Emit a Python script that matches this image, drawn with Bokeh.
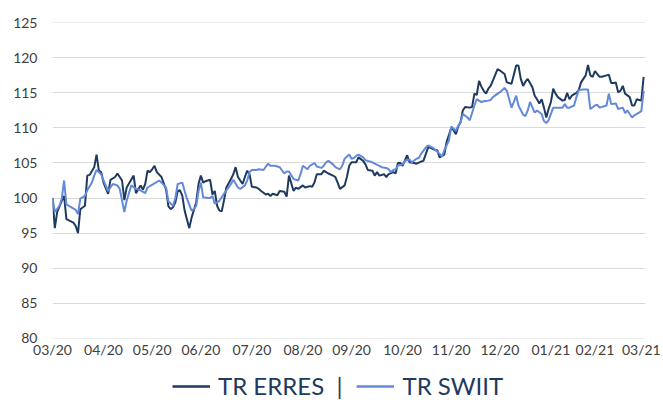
from bokeh.plotting import figure
from bokeh.models import Range1d, Legend, LegendItem, FixedTicker
from bokeh.layouts import column
from bokeh.embed import file_html
from bokeh.resources import INLINE

# ---- data (x = trading session index, y = index level) ----
erres_x = [0, 1, 2, 4, 5, 6, 9, 10, 11, 12, 14, 15, 16, 18, 19, 20, 21, 22, 24, 25, 27, 28, 30, 31, 32,
           35, 36, 38, 39, 40, 41, 42, 43, 44, 45, 47, 49, 50, 51, 52, 53, 54, 55, 56, 57, 59, 60, 62, 63,
           64, 65, 66, 68, 69, 70, 71, 72, 73, 74, 75, 77, 78, 79, 80, 81, 82, 83, 84, 85, 86, 88, 89, 90,
           92, 93, 94, 95, 97, 98, 100, 101, 102, 104, 105, 106, 108, 109, 111, 112, 113, 114, 116, 117,
           118, 119, 121, 122, 123, 124, 126, 127, 128, 129, 131, 132, 134, 135, 136, 138, 139, 140, 141,
           143, 144, 145, 147, 148, 149, 150, 151, 153, 154, 156, 157, 159, 160, 162, 163, 164, 166, 167,
           169, 170, 172, 173, 174, 175, 176, 177, 178, 180, 181, 182, 183, 184, 185, 186, 187, 188, 189,
           190, 192, 193, 195, 196, 198, 199, 200, 201, 202, 203, 204, 205, 207, 208, 209, 210, 211, 212,
           213, 214, 215, 216, 217, 218, 220, 221, 222, 223, 224, 226, 227, 228, 230, 231, 232, 233, 234,
           236, 237, 239, 240, 241, 242, 243, 244, 245, 246, 247, 249, 250, 251, 252, 253, 254, 255]
erres_y = [100.0, 95.7, 98.0, 99.6, 100.3, 97.0, 96.5, 96.0, 95.0, 98.4, 98.9, 103.2, 103.3, 104.4, 106.2,
           103.9, 103.7, 102.2, 100.6, 102.6, 103.0, 103.5, 102.5, 99.7, 101.5, 103.2, 100.7, 101.8, 101.2,
           102.0, 103.9, 103.7, 104.1, 104.6, 103.7, 103.0, 101.2, 98.8, 98.4, 98.7, 99.4, 101.0, 101.1,
           100.3, 98.2, 95.7, 97.2, 99.4, 102.0, 103.2, 102.2, 102.4, 102.6, 100.5, 101.0, 98.9, 98.2, 98.1,
           99.7, 101.5, 102.7, 103.4, 104.4, 103.0, 102.5, 102.0, 103.0, 103.9, 103.4, 101.6, 101.5, 101.3,
           101.0, 100.5, 100.6, 100.3, 100.6, 100.4, 101.0, 100.9, 100.2, 103.2, 101.0, 101.5, 101.3, 101.8,
           101.5, 101.7, 101.6, 102.2, 103.4, 103.4, 103.9, 103.7, 103.5, 103.2, 103.0, 102.2, 101.3, 101.8,
           103.0, 104.6, 105.1, 105.1, 105.8, 105.3, 104.8, 104.0, 103.9, 103.2, 103.7, 103.2, 103.4, 103.0,
           103.4, 103.7, 103.5, 105.0, 105.0, 104.6, 106.1, 105.1, 105.0, 104.9, 105.2, 105.3, 107.2, 107.2,
           107.0, 106.8, 105.8, 106.2, 108.0, 110.0, 109.7, 109.1, 110.2, 110.8, 112.5, 113.0, 112.9, 113.0,
           114.9, 114.7, 116.7, 115.9, 115.3, 114.9, 115.6, 116.0, 116.8, 118.4, 118.2, 117.7, 116.5, 116.3,
           117.6, 118.9, 118.9, 117.0, 116.0, 116.6, 117.0, 115.8, 114.6, 114.1, 113.5, 114.1, 112.9, 111.5,
           112.7, 113.7, 115.6, 114.9, 114.4, 113.9, 114.0, 115.0, 114.1, 114.6, 115.0, 115.4, 116.5, 117.5,
           119.0, 117.5, 117.3, 118.1, 117.3, 117.3, 117.5, 117.6, 116.4, 116.4, 116.5, 115.1, 115.3, 116.0,
           114.9, 114.4, 113.2, 113.2, 114.1, 114.0, 113.9, 117.3]

swiit_x = [0, 1, 3, 4, 5, 6, 8, 10, 11, 12, 14, 15, 17, 18, 19, 21, 22, 24, 26, 28, 29, 31, 32, 34, 36,
           38, 40, 41, 44, 46, 47, 49, 50, 52, 53, 54, 56, 57, 58, 60, 61, 62, 63, 64, 65, 67, 68, 69, 70,
           72, 73, 75, 77, 78, 80, 81, 83, 84, 85, 86, 88, 89, 91, 93, 94, 96, 98, 100, 101, 102, 104, 106,
           107, 108, 110, 111, 113, 114, 116, 117, 118, 119, 121, 122, 124, 125, 126, 128, 129, 130, 131,
           132, 134, 135, 136, 138, 139, 141, 142, 144, 145, 146, 147, 148, 149, 151, 152, 154, 155, 157,
           158, 159, 161, 162, 164, 165, 167, 168, 169, 171, 172, 174, 175, 176, 177, 179, 180, 182, 183,
           185, 186, 188, 189, 190, 192, 193, 195, 196, 197, 198, 199, 200, 201, 203, 204, 205, 206, 208,
           209, 211, 212, 213, 214, 215, 216, 218, 220, 221, 222, 223, 225, 226, 227, 229, 231, 232, 234,
           235, 236, 239, 240, 241, 243, 244, 246, 247, 248, 250, 251, 253, 254, 255]
swiit_y = [100.0, 98.0, 98.9, 99.9, 102.5, 99.1, 98.7, 98.3, 97.7, 99.9, 100.3, 101.1, 102.2, 103.2, 104.0,
           103.4, 102.5, 101.0, 102.0, 101.8, 101.3, 98.0, 99.6, 101.8, 101.3, 101.1, 100.7, 101.5, 102.1,
           102.5, 102.2, 101.5, 99.5, 98.9, 100.0, 102.0, 102.2, 101.0, 99.9, 98.2, 98.4, 98.9, 101.0, 102.2,
           100.1, 100.0, 100.0, 100.3, 99.2, 99.6, 100.1, 101.1, 102.0, 102.6, 101.5, 101.3, 101.8, 102.5,
           103.7, 104.0, 104.0, 104.1, 104.0, 104.9, 104.6, 104.6, 104.4, 103.5, 103.8, 103.8, 102.7, 102.5,
           103.4, 104.6, 104.1, 104.6, 105.0, 104.5, 104.3, 104.6, 105.1, 105.3, 104.8, 104.4, 104.1, 104.6,
           105.6, 106.2, 105.6, 105.7, 106.0, 106.2, 105.8, 105.4, 105.3, 105.1, 104.9, 104.6, 104.4, 104.3,
           104.1, 103.7, 104.0, 104.1, 104.6, 104.8, 105.3, 105.5, 105.1, 105.6, 105.7, 106.3, 107.2, 107.5,
           107.2, 106.9, 106.3, 105.9, 106.8, 108.2, 110.2, 109.6, 110.3, 110.8, 112.0, 111.5, 111.1, 113.2,
           114.1, 113.7, 113.8, 113.9, 114.0, 114.4, 114.9, 115.1, 115.7, 115.3, 114.1, 112.9, 113.7, 114.6,
           113.2, 111.9, 111.7, 112.5, 113.7, 112.2, 112.5, 112.0, 111.0, 110.7, 111.1, 112.0, 112.9, 112.9,
           112.9, 113.4, 112.9, 112.9, 113.2, 114.4, 115.4, 115.5, 115.5, 112.7, 113.2, 113.3, 112.9, 113.2,
           114.9, 113.4, 113.5, 112.7, 112.9, 112.1, 112.5, 111.5, 111.8, 112.2, 112.4, 115.3]

tick_pos = [0, 22, 43, 64, 86, 108, 129, 151, 172, 193, 215, 234, 254]
tick_labels = ["03/20", "04/20", "05/20", "06/20", "07/20", "08/20", "09/20",
               "10/20", "11/20", "12/20", "01/21", "02/21", "03/21"]
y_ticks = [80, 85, 90, 95, 100, 105, 110, 115, 120, 125]

DARK = "#1f3a5f"
LIGHT = "#6489da"
FONT = "Lato"

# ---- main chart ----
p = figure(width=663, height=370, output_backend="svg", toolbar_location=None,
           x_range=Range1d(0, 255.8), y_range=Range1d(79.95, 125.05),
           min_border_left=52, min_border_right=18, min_border_top=22, min_border_bottom=32)
p.outline_line_color = None

p.line(erres_x, erres_y, line_color=DARK, line_width=2)
p.line(swiit_x, swiit_y, line_color=LIGHT, line_width=2)

p.xaxis.ticker = FixedTicker(ticks=tick_pos)
p.xaxis.major_label_overrides = {t: l for t, l in zip(tick_pos, tick_labels)}
p.yaxis.ticker = FixedTicker(ticks=y_ticks)

for ax in (p.xaxis[0], p.yaxis[0]):
    ax.axis_line_color = None
    ax.major_tick_line_color = None
    ax.minor_tick_line_color = None
    ax.major_tick_out = 0
    ax.major_label_text_font = FONT
    ax.major_label_text_font_size = "14px"
    ax.major_label_text_color = "#404040"
p.yaxis.major_label_standoff = 15
p.xaxis.major_label_standoff = 2

p.xgrid.grid_line_color = None
p.ygrid.grid_line_color = "#d9d9d9"
p.ygrid.grid_line_width = 1

# ---- legend strip (same series, range set so only the legend shows) ----
lg = figure(width=663, height=30, output_backend="svg", toolbar_location=None,
            x_range=Range1d(0, 1), y_range=Range1d(0, 1),
            x_axis_location=None, y_axis_location=None,
            min_border_left=0, min_border_right=0, min_border_top=0, min_border_bottom=0)
lg.outline_line_color = None
lg.grid.grid_line_color = None
l1 = lg.line(erres_x, erres_y, line_color=DARK, line_width=2.5)
l2 = lg.line(swiit_x, swiit_y, line_color=LIGHT, line_width=2.5)

legend = Legend(items=[LegendItem(label="TR ERRES  |", renderers=[l1]),
                       LegendItem(label="TR SWIIT", renderers=[l2])],
                orientation="horizontal", location=(120, 0),
                label_text_font=FONT, label_text_font_size="24px", label_text_color=DARK,
                glyph_width=38, glyph_height=20, label_standoff=8, spacing=14,
                padding=0, margin=0, border_line_color=None, background_fill_alpha=0)
lg.add_layout(legend, "center")

open("out.html", "w").write(file_html(column(p, lg, spacing=0), INLINE))
